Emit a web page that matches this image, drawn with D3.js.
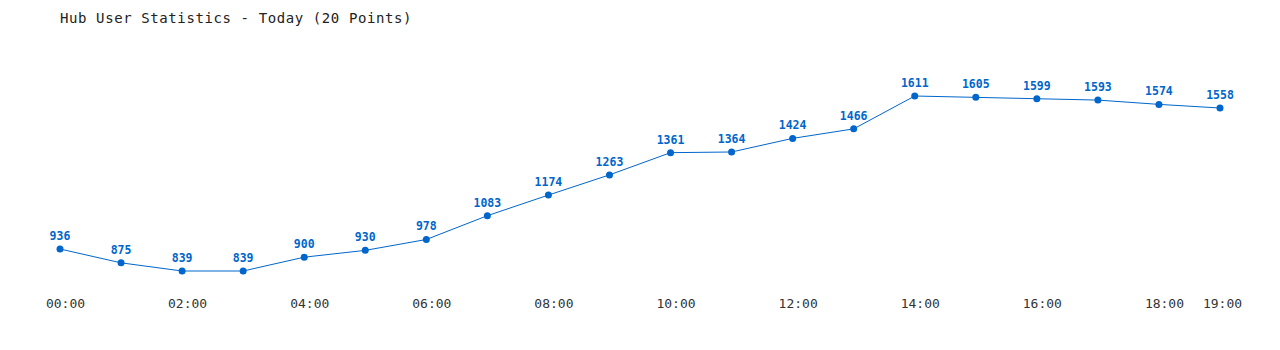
<!DOCTYPE html>
<html>
<head>
<meta charset="utf-8">
<script src="https://cdn.jsdelivr.net/npm/d3@7"></script>
<style>
  body { margin: 0; background: #fff; }
  svg { display: block; font-family: "DejaVu Sans Mono", "Liberation Mono", monospace; }
</style>
</head>
<body>
<div id="chart"></div>
<script>
// data
const hours = ['00:00','01:00','02:00','03:00','04:00','05:00','06:00','07:00','08:00','09:00',
               '10:00','11:00','12:00','13:00','14:00','15:00','16:00','17:00','18:00','19:00'];
const users = [936, 875, 839, 839, 900, 930, 978, 1083, 1174, 1263,
               1361, 1364, 1424, 1466, 1611, 1605, 1599, 1593, 1574, 1558];
const tickHours = ['00:00','02:00','04:00','06:00','08:00','10:00','12:00','14:00','16:00','18:00','19:00'];

const width = 1280, height = 350;
const blue = '#0066cc';

const svg = d3.select('#chart').append('svg')
    .attr('width', width).attr('height', height);

svg.append('text')
    .attr('x', 60).attr('y', 23)
    .attr('font-size', 14).attr('letter-spacing', 0.6)
    .attr('fill', '#222')
    .text('Hub User Statistics - Today (20 Points)');

const x = d3.scalePoint().domain(hours).range([60, 1220]);
const y = d3.scaleLinear().domain([d3.min(users), d3.max(users)]).range([271, 96]);

// x axis labels only, no line
const axis = svg.append('g')
    .attr('transform', 'translate(0,296)')
    .call(d3.axisBottom(x).tickValues(tickHours).tickSize(0).tickPadding(0));
axis.select('.domain').remove();
axis.selectAll('text')
    .attr('dy', '0.9em')
    .attr('dx', d => d === '19:00' ? 2 : 5)
    .attr('font-size', 13)
    .attr('font-family', '"DejaVu Sans Mono", monospace')
    .attr('fill', '#333');

const line = d3.line().x((d, i) => x(hours[i])).y(d => y(d));
svg.append('path').datum(users)
    .attr('d', line)
    .attr('fill', 'none').attr('stroke', blue).attr('stroke-width', 1);

svg.selectAll('circle').data(users).enter().append('circle')
    .attr('cx', (d, i) => x(hours[i])).attr('cy', d => y(d))
    .attr('r', 3.5).attr('fill', blue);

svg.selectAll('.lbl').data(users).enter().append('text')
    .attr('class', 'lbl')
    .attr('x', (d, i) => x(hours[i])).attr('y', d => y(d) - 9)
    .attr('text-anchor', 'middle')
    .attr('font-size', 11.5).attr('font-weight', 'bold')
    .attr('fill', blue)
    .text(d => d);
</script>
</body>
</html>
